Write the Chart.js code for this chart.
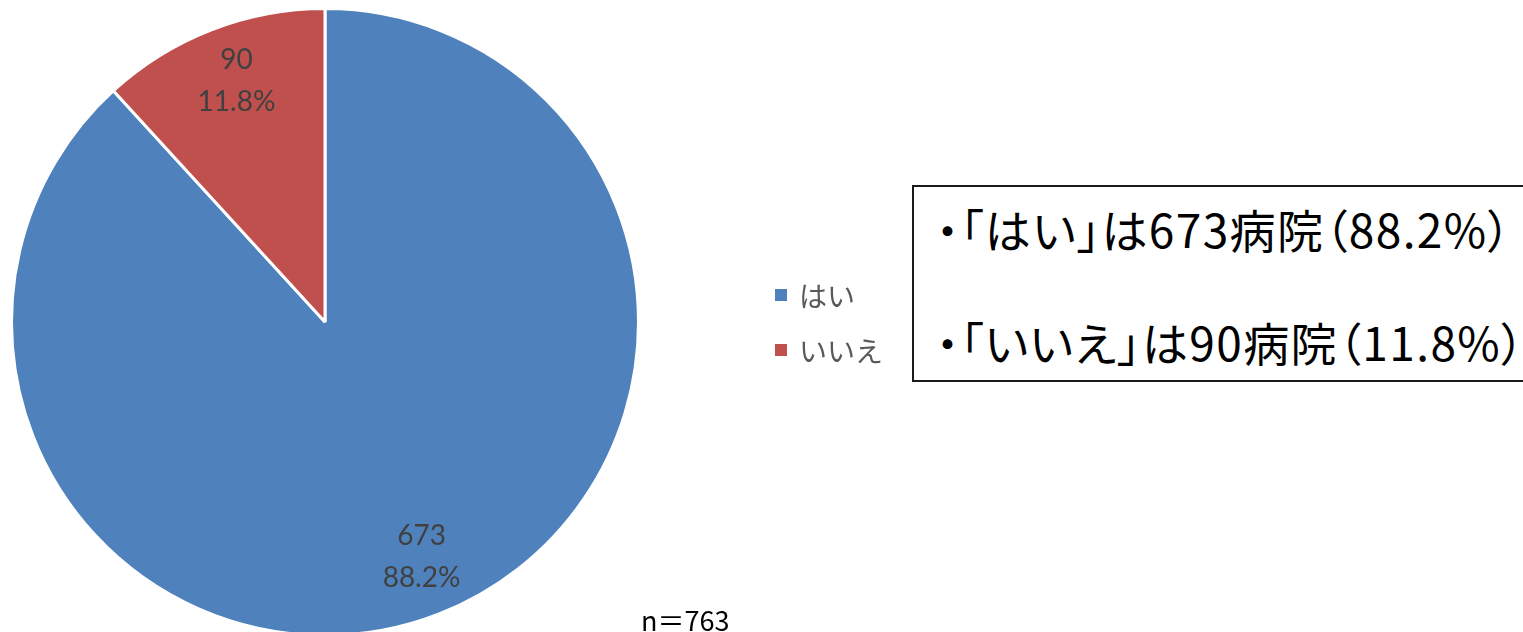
<!DOCTYPE html>
<html lang="ja">
<head>
<meta charset="utf-8">
<script src="https://cdn.jsdelivr.net/npm/chart.js@4.4.1/dist/chart.umd.min.js"></script>
<style>
  html, body { margin: 0; padding: 0; background: #fff; width: 1523px; height: 632px; overflow: hidden; }
  #wrap { position: absolute; left: 0; top: 0; width: 1523px; height: 660px; }
  #note {
    position: absolute; left: 912px; top: 185px; width: 700px; height: 197px;
    box-sizing: border-box; border: 2px solid #1a1a1a; background: #fff;
    font-family: "Noto Sans CJK JP", sans-serif; font-size: 46px; color: #000;
    font-feature-settings: "palt" 1; letter-spacing: 1.4px;
  }
  #note div { position: absolute; left: 22px; white-space: nowrap; line-height: 52px; }
  #nLabel {
    position: absolute; left: 641px; top: 605px;
    font-family: "Noto Sans CJK JP", sans-serif; font-size: 27px; color: #000; line-height: 30px;
  }
</style>
</head>
<body>
<div id="wrap"><canvas id="pie"></canvas></div>
<div id="note"></div>
<div id="nLabel"></div>
<script>
var categories = ['はい', 'いいえ'];
var counts = [673, 90];
var percents = ['88.2%', '11.8%'];
var sliceColors = ['#4F81BD', '#C0504D'];
var totalLabel = 'n＝763';

// text box + n label built from the data
var note = document.getElementById('note');
var tops = [15, 128];
categories.forEach(function (c, i) {
  var d = document.createElement('div');
  d.style.top = tops[i] + 'px';
  d.textContent = '・「' + c + '」は' + counts[i] + '病院（' + percents[i] + '）';
  note.appendChild(d);
});
document.getElementById('nLabel').textContent = totalLabel;

var sliceLabels = {
  id: 'sliceLabels',
  afterDatasetsDraw: function (chart) {
    var ctx = chart.ctx;
    var meta = chart.getDatasetMeta(0);
    ctx.save();
    ctx.font = '28px Lato, sans-serif';
    ctx.fillStyle = '#404040';
    ctx.textAlign = 'center';
    ctx.textBaseline = 'middle';
    meta.data.forEach(function (arc, i) {
      var p = arc.getProps(['x', 'y', 'startAngle', 'endAngle', 'outerRadius'], true);
      var mid = (p.startAngle + p.endAngle) / 2;
      var r = p.outerRadius * 0.815;
      var cx = p.x + Math.cos(mid) * r + 4;
      var cy = p.y + Math.sin(mid) * r - 3;
      ctx.fillText(String(counts[i]), cx, cy - 21);
      ctx.fillText(percents[i], cx, cy + 21);
    });
    ctx.restore();
  }
};

var sideLegend = {
  id: 'sideLegend',
  afterDraw: function (chart) {
    var ctx = chart.ctx;
    var ds = chart.data.datasets[0];
    var ys = [295, 350];
    ctx.save();
    ctx.font = '28px "Noto Sans CJK JP", sans-serif';
    ctx.textBaseline = 'middle';
    chart.data.labels.forEach(function (lab, i) {
      ctx.fillStyle = ds.backgroundColor[i];
      ctx.fillRect(775, ys[i] - 6, 12, 12);
      ctx.fillStyle = '#595959';
      ctx.fillText(lab, 799, ys[i] + 1);
    });
    ctx.restore();
  }
};

new Chart(document.getElementById('pie'), {
  type: 'pie',
  data: {
    labels: categories,
    datasets: [{
      data: counts,
      backgroundColor: sliceColors,
      borderColor: '#ffffff',
      borderWidth: 3
    }]
  },
  options: {
    responsive: true,
    maintainAspectRatio: false,
    animation: false,
    layout: { padding: { left: 10, top: 7, right: 883, bottom: 23 } },
    plugins: { legend: { display: false }, tooltip: { enabled: false } }
  },
  plugins: [sliceLabels, sideLegend]
});
</script>
</body>
</html>
